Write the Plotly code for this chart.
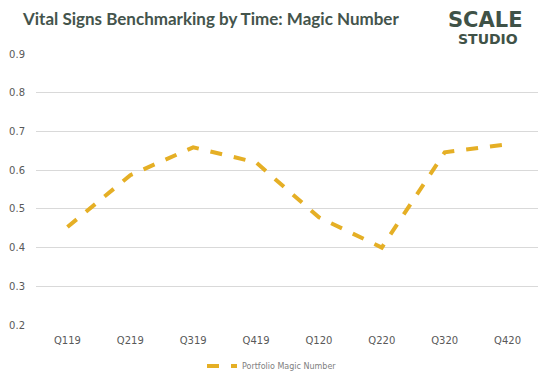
import plotly.graph_objects as go

quarters = ["Q119", "Q219", "Q319", "Q419", "Q120", "Q220", "Q320", "Q420"]
magic_number = [0.453, 0.587, 0.659, 0.620, 0.478, 0.400, 0.646, 0.667]
series_name = "Portfolio Magic Number"
title_text = "Vital Signs Benchmarking by Time: Magic Number"
y_ticks = [0.2, 0.3, 0.4, 0.5, 0.6, 0.7, 0.8, 0.9]

# the page body adds an 8px margin, so the figure is placed 8px in from the window corner
OFF = 8
W, H = 546 - OFF, 385 - OFF
L, R, T, B = 36 - OFF, 7, 54 - OFF, 60
pw, ph = W - L - R, H - T - B


def px(x):  # window pixel -> paper x
    return (x - OFF - L) / pw


def py(y):  # window pixel -> paper y
    return 1 + (T - (y - OFF)) / ph


tick_font = dict(size=10, color="#595959", family="DejaVu Sans, sans-serif")

fig = go.Figure()
fig.add_trace(go.Scatter(
    x=quarters, y=magic_number, mode="lines", name=series_name,
    line=dict(color="#E5AF25", width=4, dash="dash", shape="linear"),
))

fig.update_layout(
    width=W, height=H,
    margin=dict(l=L, r=R, t=T, b=B, autoexpand=False),
    paper_bgcolor="white", plot_bgcolor="white",
    font=dict(family="DejaVu Sans, sans-serif", color="#595959", size=10),
    showlegend=True,
    legend=dict(orientation="h", x=(272 - OFF) / W, xanchor="center", xref="container",
                y=1 - (366 - OFF) / H, yanchor="middle", yref="container",
                itemwidth=30, font=dict(size=8, color="#808080", family="DejaVu Sans, sans-serif")),
    xaxis=dict(showgrid=False, showline=False, ticks="", range=[-0.5, 7.5], automargin=False,
               ticklabelstandoff=8, tickfont=tick_font),
    yaxis=dict(range=[0.2, 0.9], tickvals=y_ticks, ticktext=[f"{v:.1f}" for v in y_ticks],
               showgrid=True, gridcolor="#D9D9D9", gridwidth=1, zeroline=False, automargin=False,
               showline=False, ticks="", ticklabelstandoff=10, tickfont=tick_font),
    annotations=[
        dict(text=f"<b>{title_text}</b>", x=px(20), y=py(18), xref="paper", yref="paper",
             xanchor="left", yanchor="middle", showarrow=False,
             font=dict(size=17, color="#44544C", family="Lato, sans-serif")),
        dict(text="<b>SCALE</b>", x=px(485), y=py(19.5), xref="paper", yref="paper",
             xanchor="center", yanchor="middle", showarrow=False,
             font=dict(size=21, color="#3F5247", family="DejaVu Sans, sans-serif")),
        dict(text="<b>STUDIO</b>", x=px(488), y=py(38.5), xref="paper", yref="paper",
             xanchor="center", yanchor="middle", showarrow=False,
             font=dict(size=14, color="#3F5247", family="DejaVu Sans, sans-serif")),
    ],
)
fig.write_html("out.html")
